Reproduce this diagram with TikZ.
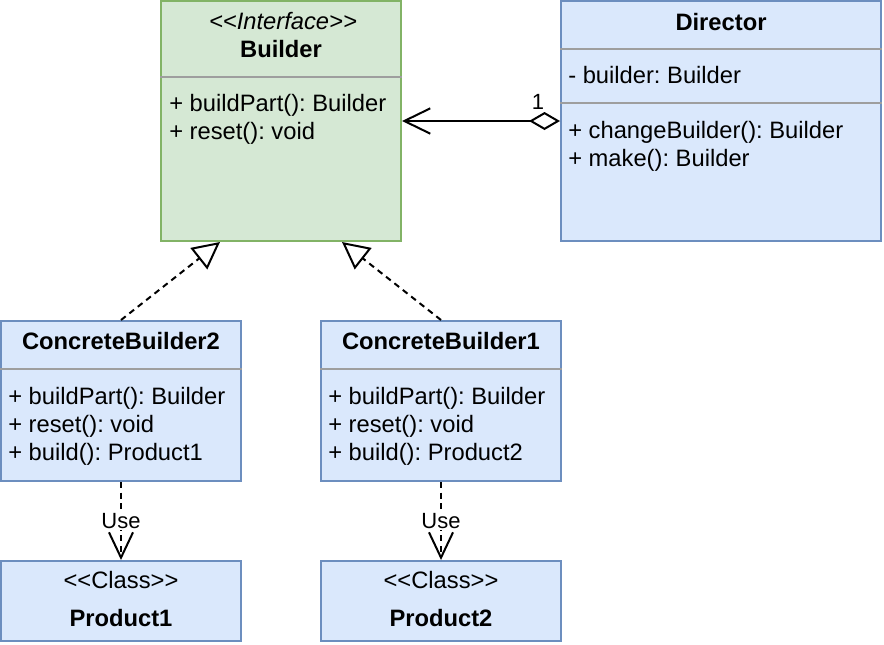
\documentclass[tikz,border=0pt]{standalone}
\usepackage{fontspec}
\setmainfont{Liberation Sans}
\frenchspacing
\usetikzlibrary{arrows.meta,calc}
\definecolor{gfill}{HTML}{D5E8D4}
\definecolor{gline}{HTML}{82B366}
\definecolor{bfill}{HTML}{DAE8FC}
\definecolor{bline}{HTML}{6C8EBF}
\definecolor{divgray}{HTML}{9E9E9E}
\begin{document}
\begin{tikzpicture}[x=0.75pt,y=-0.75pt,
  gbox/.style={draw=gline, fill=gfill, line width=1.5pt, inner sep=0pt},
  bbox/.style={draw=bline, fill=bfill, line width=1.5pt, inner sep=0pt},
  divider/.style={draw=divgray, line width=1.1pt},
  txt/.style={anchor=base west, inner sep=0pt, font=\fontsize{17.8}{21}\selectfont},
  ttl/.style={anchor=base, inner sep=0pt, font=\fontsize{17.8}{21}\selectfont\bfseries},
  ster/.style={anchor=base, inner sep=0pt, font=\fontsize{17.8}{21}\selectfont},
  conn/.style={draw=black, line width=1.5pt},
  dconn/.style={conn, dash pattern=on 4.5pt off 3.5pt},
  lbl/.style={inner sep=1pt, font=\fontsize{16.5}{19}\selectfont},
  uselbl/.style={lbl, fill=white}]
\useasboundingbox (0,0) rectangle (884,644);

% Builder
\node[gbox, minimum width=180pt, minimum height=180pt] (builder) at (281,121) {};
\node[ster, font=\fontsize{17.8}{21}\selectfont\itshape] (bst) at (283,29) {{<}{<}Interface{>}{>}};
\node[ttl] (bname) at (281,57) {Builder};
\draw[divider] (builder.west |- 0,77) -- (builder.east |- 0,77);
\node[txt] (bm1) at (169,111) {+ buildPart(): Builder};
\node[txt] (bm2) at (169,139) {+ reset(): void};

% Director
\node[bbox, minimum width=240pt, minimum height=180pt] (director) at (721,121) {};
\node[ttl] (dname) at (721,30) {Director};
\draw[divider] (director.west |- 0,49) -- (director.east |- 0,49);
\node[txt] (da1) at (568,83) {- builder: Builder};
\draw[divider] (director.west |- 0,103) -- (director.east |- 0,103);
\node[txt] (dm1) at (568,138) {+ changeBuilder(): Builder};
\node[txt] (dm2) at (568,166) {+ make(): Builder};

% ConcreteBuilder2
\node[bbox, minimum width=180pt, minimum height=120pt] (cb2) at (121,401) {};
\node[ttl] (c2name) at (121,349) {ConcreteBuilder2};
\draw[divider] (cb2.west |- 0,369) -- (cb2.east |- 0,369);
\node[txt] (c2m1) at (8,404) {+ buildPart(): Builder};
\node[txt] (c2m2) at (8,432) {+ reset(): void};
\node[txt] (c2m3) at (8,460) {+ build(): Product1};

% ConcreteBuilder1
\node[bbox, minimum width=180pt, minimum height=120pt] (cb1) at (441,401) {};
\node[ttl] (c1name) at (441,349) {ConcreteBuilder1};
\draw[divider] (cb1.west |- 0,369) -- (cb1.east |- 0,369);
\node[txt] (c1m1) at (328,404) {+ buildPart(): Builder};
\node[txt] (c1m2) at (328,432) {+ reset(): void};
\node[txt] (c1m3) at (328,460) {+ build(): Product2};

% Products
\node[bbox, minimum width=180pt, minimum height=60pt] (prod1) at (121,601) {};
\node[ster] (p1st) at (121,588) {{<}{<}Class{>}{>}};
\node[ttl] (p1name) at (121,626) {Product1};
\node[bbox, minimum width=180pt, minimum height=60pt] (prod2) at (441,601) {};
\node[ster] (p2st) at (441,588) {{<}{<}Class{>}{>}};
\node[ttl] (p2name) at (441,626) {Product2};

% Aggregation Director -> Builder
\draw[conn, {Diamond[length=23.25pt,width=13.5pt,fill=white]}-{Straight Barb[length=19.5pt,width=19pt]}]
  (director.west) -- (builder.east);
\node[lbl] (mult) at (538,102) {1};

% Realizations
\draw[dconn, -{Triangle[length=20.25pt,width=20.25pt,fill=white]}]
  (cb2.north) -- ($(builder.south west)+(60,0)$);
\draw[dconn, -{Triangle[length=20.25pt,width=20.25pt,fill=white]}]
  (cb1.north) -- ($(builder.south east)+(-60,0)$);

% Use dependencies
\draw[dconn, -{Straight Barb[length=19pt,width=18pt]}]
  (cb2.south) -- node[uselbl, pos=0.5] (use2) {Use} (prod1.north);
\draw[dconn, -{Straight Barb[length=19pt,width=18pt]}]
  (cb1.south) -- node[uselbl, pos=0.5] (use1) {Use} (prod2.north);
\end{tikzpicture}
\end{document}
